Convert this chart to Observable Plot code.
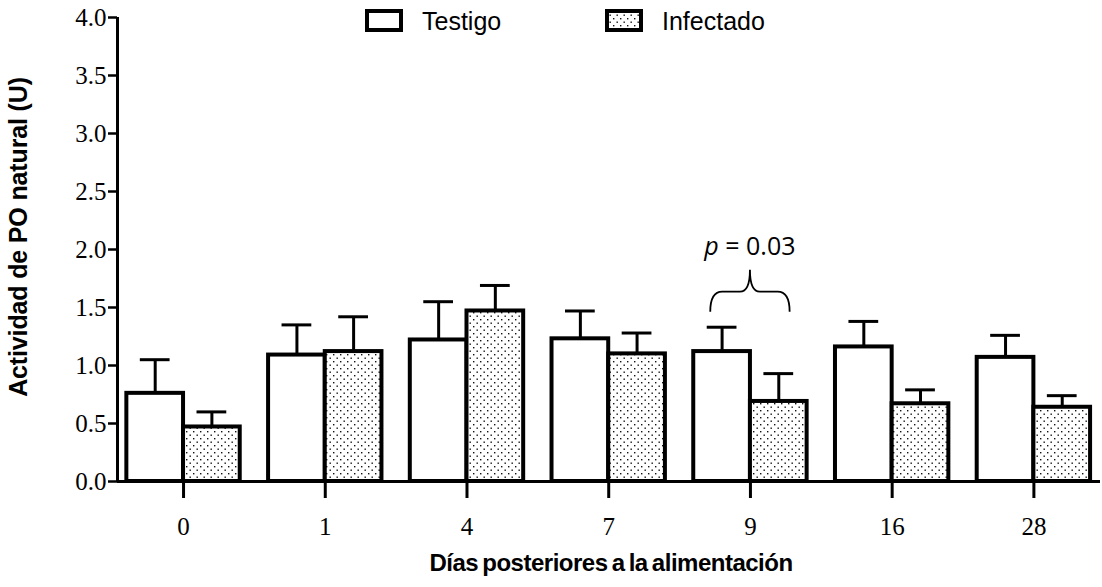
<!DOCTYPE html>
<html>
<head>
<meta charset="utf-8">
<script src="https://cdn.jsdelivr.net/npm/d3@7"></script>
<script src="https://cdn.jsdelivr.net/npm/@observablehq/plot@0.6"></script>
<style>
  html, body { margin: 0; padding: 0; background: #fff; }
  #chart { position: relative; width: 1102px; height: 587px; }
</style>
</head>
<body>
<!-- stipple fill shared by the bars and the legend swatch -->
<svg width="0" height="0" style="position:absolute">
  <defs>
    <pattern id="stipple" width="7" height="7" patternUnits="userSpaceOnUse">
      <rect width="7" height="7" fill="#fff"></rect>
      <rect x="0.5" y="0.5" width="1.4" height="1.4" fill="#111"></rect>
      <rect x="4" y="4" width="1.4" height="1.4" fill="#111"></rect>
    </pattern>
  </defs>
</svg>
<div id="chart"></div>
<script>
// Days after feeding
const days = ["0", "1", "4", "7", "9", "16", "28"];
// Natural PO activity (U): mean and standard error per group
const testigoMean = [0.76, 1.09, 1.22, 1.23, 1.12, 1.16, 1.07];
const testigoSem  = [0.29, 0.26, 0.33, 0.24, 0.21, 0.22, 0.19];
const infectadoMean = [0.47, 1.12, 1.47, 1.10, 0.69, 0.67, 0.64];
const infectadoSem  = [0.13, 0.30, 0.22, 0.18, 0.24, 0.12, 0.10];
const seriesNames = ["Testigo", "Infectado"];
const yTicks = [0.0, 0.5, 1.0, 1.5, 2.0, 2.5, 3.0, 3.5, 4.0];
// Significant difference between groups
const pDay = "9";
const pSymbol = "p";
const pValue = "0.03";

// Layout in group units: each day occupies one unit, two bars side by side
const barWidth = 0.4;
const capHalf = 0.105;
const xDomain = [-0.466, 6.47];

function rows(means, sems, side) {
  return means.map((m, i) => ({
    i, day: days[i], mean: m, upper: m + sems[i],
    x1: side < 0 ? i - barWidth : i,
    x2: side < 0 ? i : i + barWidth,
    xc: i + side * barWidth / 2
  }));
}
const testigoRows = rows(testigoMean, testigoSem, -1);
const infectadoRows = rows(infectadoMean, infectadoSem, 1);
const allRows = testigoRows.concat(infectadoRows);

// Curly brace with p-value over the significant day
function braceMark(index, scales) {
  const X = scales.x, Y = scales.y;
  const i = days.indexOf(pDay);
  const top = Math.max(testigoRows[i].upper, infectadoRows[i].upper);
  const x1 = X(i - 0.28), x2 = X(i + 0.28), xm = X(i);
  const yE = Y(top) - 15, yH = yE - 20, yT = yH - 22;
  const g = d3.create("svg:g");
  g.append("path")
    .attr("fill", "none").attr("stroke", "#000").attr("stroke-width", 1.8)
    .attr("d", `M${x1},${yE} Q${x1},${yH} ${x1 + 12},${yH} L${xm - 10},${yH} Q${xm},${yH} ${xm},${yT}` +
               ` Q${xm},${yH} ${xm + 10},${yH} L${x2 - 12},${yH} Q${x2},${yH} ${x2},${yE}`);
  const t = g.append("text")
    .attr("x", xm).attr("y", yT - 15)
    .attr("text-anchor", "middle")
    .attr("font-family", "'Open Sans', sans-serif")
    .attr("font-size", 25).attr("fill", "#000");
  t.append("tspan").attr("font-style", "italic").text(pSymbol);
  t.append("tspan").text(" = " + pValue);
  return g.node();
}

const plot = Plot.plot({
  width: 1102,
  height: 587,
  marginTop: 17,
  marginBottom: 106,
  marginLeft: 117,
  marginRight: 2,
  x: {domain: xDomain, axis: null, label: null},
  y: {domain: [0, 4], axis: null, label: null},
  style: {fontFamily: "'Liberation Serif', 'Times New Roman', serif", fontSize: "25px", color: "#000", background: "#fff"},
  marks: [
    Plot.rectY(testigoRows, {x1: "x1", x2: "x2", y1: 0, y2: "mean", fill: "#fff", stroke: "#000", strokeWidth: 4}),
    Plot.rectY(infectadoRows, {x1: "x1", x2: "x2", y1: 0, y2: "mean", fill: "url(#stipple)", stroke: "#000", strokeWidth: 4}),
    Plot.ruleX(allRows, {x: "xc", y1: "mean", y2: "upper", stroke: "#000", strokeWidth: 3}),
    Plot.ruleY(allRows, {y: "upper", x1: d => d.xc - capHalf, x2: d => d.xc + capHalf, stroke: "#000", strokeWidth: 3}),
    Plot.ruleX([xDomain[0]], {stroke: "#000", strokeWidth: 3}),
    Plot.ruleY([0], {stroke: "#000", strokeWidth: 3}),
    Plot.axisY(yTicks, {tickFormat: d3.format(".1f"), tickSize: 9, tickPadding: 2, strokeWidth: 2.5, fontSize: 25, label: null}),
    Plot.axisX(days.map((d, i) => i), {tickFormat: i => days[i], tickSize: 17, tickPadding: 19, strokeWidth: 3, fontSize: 25, label: null}),
    braceMark
  ]
});

const svg = d3.select(plot);
// Axis titles
svg.append("text")
  .attr("transform", "translate(27,237) rotate(-90)")
  .attr("text-anchor", "middle")
  .attr("font-family", "'Liberation Sans', Arial, sans-serif")
  .attr("font-weight", "bold").attr("font-size", 25)
  .attr("letter-spacing", -0.15).attr("fill", "#000")
  .text("Actividad de PO natural (U)");
svg.append("text")
  .attr("x", 611).attr("y", 571)
  .attr("text-anchor", "middle")
  .attr("font-family", "'Liberation Sans', Arial, sans-serif")
  .attr("font-weight", "bold").attr("font-size", 24)
  .attr("letter-spacing", -0.5).attr("word-spacing", -2).attr("fill", "#000")
  .text("Días posteriores a la alimentación");

// Legend
const legendFills = ["#fff", "url(#stipple)"];
const legendX = [367, 607];
const legend = svg.append("g")
  .attr("text-anchor", "start")
  .attr("font-family", "'Liberation Sans', Arial, sans-serif").attr("font-size", 25);
seriesNames.forEach((name, k) => {
  legend.append("rect").attr("x", legendX[k]).attr("y", 11).attr("width", 34).attr("height", 19)
    .attr("fill", legendFills[k]).attr("stroke", "#000").attr("stroke-width", 4);
  legend.append("text").attr("x", legendX[k] + 55).attr("y", 30).attr("fill", "#000").text(name);
});

document.getElementById("chart").appendChild(plot);
</script>
</body>
</html>
